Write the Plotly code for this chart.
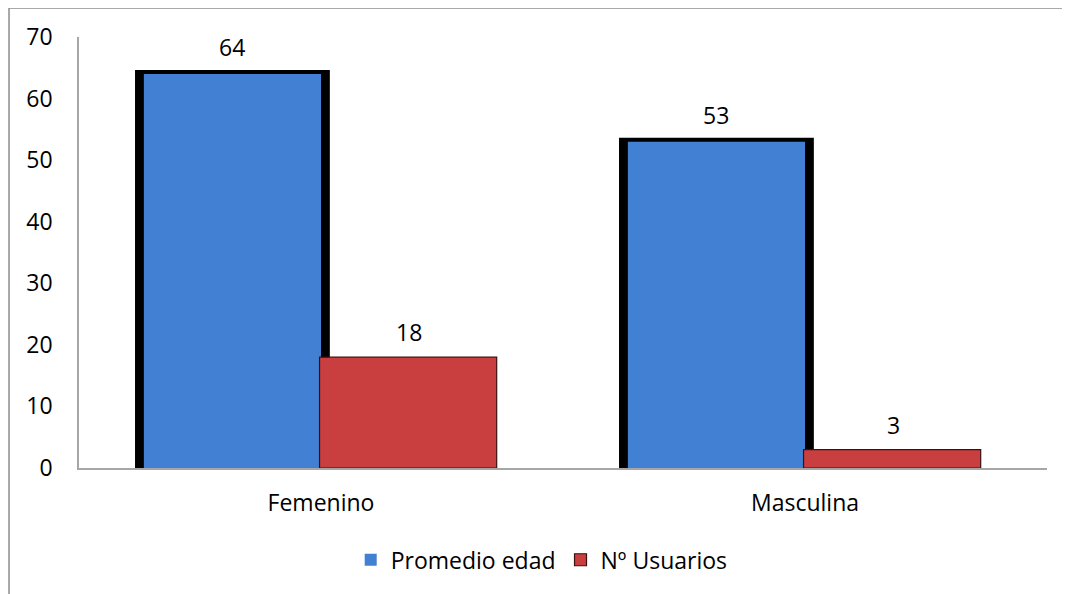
import plotly.graph_objects as go

# Data
categorias = ["Femenino", "Masculina"]
promedio_edad = [64, 53]
num_usuarios = [18, 3]

FONT = "Open Sans"
FONT_SIZE = 23
AXIS_GREY = "#a6a6a6"

fig = go.Figure()

# black drop shadow behind the blue bars
fig.add_trace(
    go.Bar(
        x=categorias,
        y=promedio_edad,
        marker=dict(color="black", line=dict(color="black", width=8)),
        width=0.386,
        offset=-0.376,
        showlegend=False,
        hoverinfo="skip",
    )
)
fig.add_trace(
    go.Bar(
        x=categorias,
        y=promedio_edad,
        name="Promedio edad",
        marker=dict(color="#4180d2", line=dict(width=0)),
        width=0.366,
        offset=-0.366,
    )
)
fig.add_trace(
    go.Bar(
        x=categorias,
        y=num_usuarios,
        name="Nº Usuarios",
        marker=dict(color="#c93f3f", line=dict(color="#3a1010", width=1.2)),
        width=0.366,
        offset=-0.003,
    )
)

# value labels above each bar
for cat, val in zip(categorias, promedio_edad):
    fig.add_annotation(x=cat, y=val, text=str(val), showarrow=False,
                       xshift=-89, yshift=9, yanchor="bottom")
for cat, val in zip(categorias, num_usuarios):
    fig.add_annotation(x=cat, y=val, text=str(val), showarrow=False,
                       xshift=88, yshift=7, yanchor="bottom")

# outer chart frame (only top and left edges visible in the original)
frame = dict(type="line", xref="paper", yref="paper",
             line=dict(color="#8c8c8c", width=1.5), layer="below")
fig.add_shape(x0=-0.0723, x1=1.05, y0=1.0673, y1=1.0673, **frame)
fig.add_shape(x0=-0.0723, x1=-0.0723, y0=1.0673, y1=-0.3, **frame)

fig.update_layout(
    width=1062,
    height=586,
    barmode="overlay",
    plot_bgcolor="white",
    paper_bgcolor="white",
    font=dict(family=FONT, size=FONT_SIZE, color="black"),
    margin=dict(l=71, r=23, t=29, b=126),
    showlegend=True,
    legend=dict(
        orientation="h",
        x=0.478,
        xanchor="center",
        y=-0.213,
        yanchor="middle",
        font=dict(family=FONT, size=FONT_SIZE),
        itemwidth=30,
    ),
)

fig.update_xaxes(
    showline=True,
    linecolor=AXIS_GREY,
    linewidth=1.5,
    showgrid=False,
    ticks="",
    ticklabelstandoff=14,
)
fig.update_yaxes(
    range=[0, 70],
    dtick=10,
    showline=True,
    linecolor=AXIS_GREY,
    linewidth=1.5,
    showgrid=False,
    zeroline=False,
    ticks="",
    ticklabelstandoff=20,
)

fig.write_html("out.html")
